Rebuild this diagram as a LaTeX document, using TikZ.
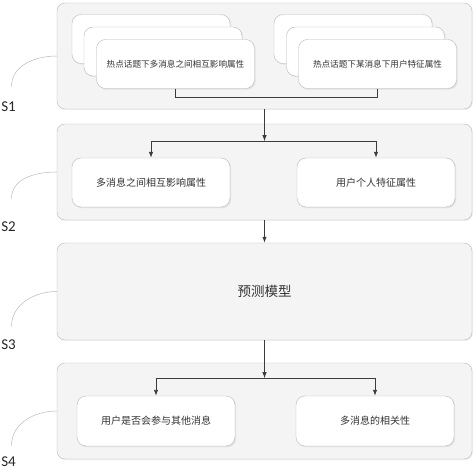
\documentclass[tikz,border=0pt]{standalone}
\usepackage{fontspec}
\setmainfont{Carlito}
\newfontfamily\cjk{Noto Sans CJK SC}
\usetikzlibrary{arrows.meta,calc,positioning,shadows}

\definecolor{boxgray}{HTML}{F4F4F4}
\definecolor{linegray}{HTML}{B8B8B8}
\definecolor{arrowgray}{HTML}{3C3C3C}

\tikzset{
  stagebox/.style={draw=linegray, fill=boxgray, rounded corners=8pt,
    minimum width=415pt, inner sep=0pt,
    drop shadow={opacity=0.12, shadow xshift=1pt, shadow yshift=-1pt}},
  itembox/.style={draw=linegray, fill=white, rounded corners=9pt,
    minimum width=158pt, minimum height=49pt, inner sep=0pt,
    font=\cjk\fontsize{10}{12}\selectfont, text=black!80,
    drop shadow={opacity=0.15, shadow xshift=1.2pt, shadow yshift=-1.2pt}},
  flow/.style={draw=arrowgray, line width=0.9pt},
  flowarrow/.style={flow, -{Latex[length=6pt,width=4.5pt]}},
  steplabel/.style={font=\fontsize{15}{15}\selectfont, text=black!85},
  stepcurve/.style={draw=gray!55, line width=0.5pt}
}

\begin{document}
\begin{tikzpicture}[x=1pt,y=-1pt]
  \useasboundingbox (0,0) rectangle (474,470);
  % stage boxes
  \node[stagebox, minimum height=106pt] (s1) at (264.5,56) {};
  \node[stagebox, minimum height=96pt] (s2) at (264.5,172) {};
  \node[stagebox, minimum height=97pt, font=\cjk\fontsize{13.5}{15}\selectfont, text=black!80] (s3) at (264.5,291.5) {预测模型};
  \node[stagebox, minimum height=96pt] (s4) at (264.5,411) {};
  % S1: stacked inputs
  \node[itembox] (a1back) at (151,39) {};
  \node[itembox] (a1mid) at (163,51.5) {};
  \node[itembox, font=\cjk\fontsize{8.6}{10}\selectfont] (a1) at (175.5,64) {热点话题下多消息之间相互影响属性};
  \node[itembox] (b1back) at (353,39) {};
  \node[itembox] (b1mid) at (365.5,51.5) {};
  \node[itembox, font=\cjk\fontsize{8.6}{10}\selectfont] (b1) at (377.5,64) {热点话题下某消息下用户特征属性};
  \draw[flow] (a1.south) -- ++(0,9) -| (b1.south);
  % S2: attributes
  \node[itembox] (a2) at (151,182.5) {多消息之间相互影响属性};
  \node[itembox] (b2) at (376,182.5) {用户个人特征属性};
  % S4: outputs
  \node[itembox, minimum height=50pt] (a4) at (156,421) {用户是否会参与其他消息};
  \node[itembox, minimum height=50pt] (b4) at (375,421) {多消息的相关性};
  % connectors
  \coordinate (j2) at ([yshift=-32pt]s1.south);
  \coordinate (j4) at ([yshift=-38pt]s3.south);
  \draw[flowarrow] (s1.south) -- (j2);
  \draw[flowarrow] (j2) -| (a2.north);
  \draw[flowarrow] (j2) -| (b2.north);
  \draw[flowarrow] (s2.south) -- (s3.north);
  \draw[flowarrow] (s3.south) -- (j4);
  \draw[flowarrow] (j4) -| (a4.north);
  \draw[flowarrow] (j4) -| (b4.north);
  % step labels
  \node[steplabel] (l1) at (8.5,107) {S1};
  \node[steplabel] (l2) at (8.5,227) {S2};
  \node[steplabel] (l3) at (8.5,345) {S3};
  \node[steplabel] (l4) at (8.5,462) {S4};
  \draw[stepcurve] (s1.west) to[out=180,in=90] ([xshift=3pt,yshift=12pt]l1.north);
  \draw[stepcurve] (s2.west) to[out=180,in=90] ([xshift=3pt,yshift=20pt]l2.north);
  \draw[stepcurve] (s3.west) to[out=180,in=90] ([xshift=3pt,yshift=10pt]l3.north);
  \draw[stepcurve] (s4.west) to[out=180,in=90] ([xshift=3pt,yshift=8pt]l4.north);
\end{tikzpicture}
\end{document}
